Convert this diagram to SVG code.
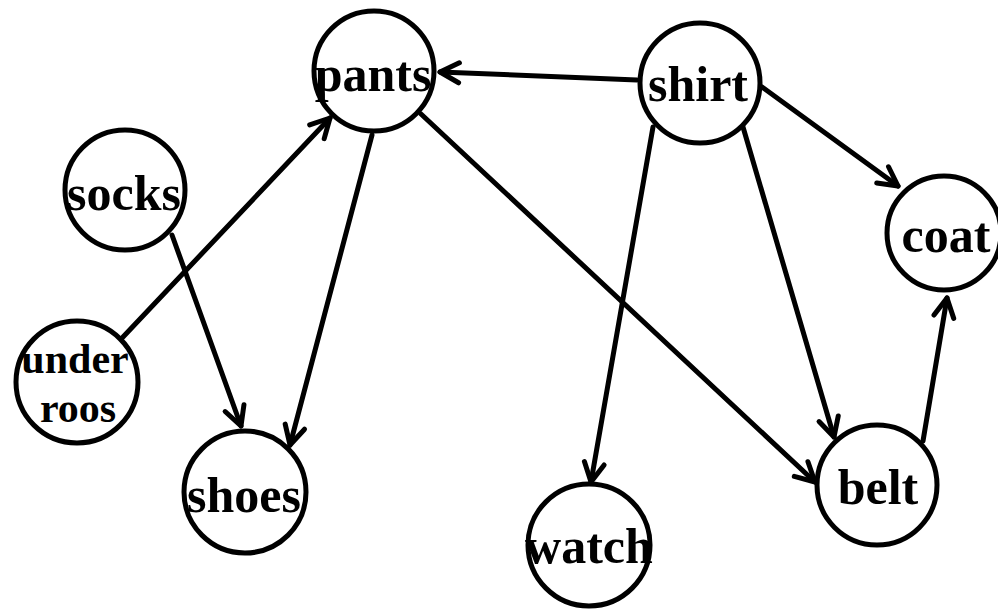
<svg xmlns="http://www.w3.org/2000/svg" width="998" height="609" viewBox="0 0 998 609">
  <style>
    .node circle { fill: #ffffff; stroke: #000000; stroke-width: 5; }
    .node text { font-family: "Liberation Serif", "Times New Roman", serif; font-weight: bold; font-size: 50px; fill: #000000; text-anchor: middle; }
    .node text.small { font-size: 42px; }
    .edges line { stroke: #000000; stroke-width: 5; stroke-linecap: round; marker-end: url(#arrow); }
  </style>
  <defs>
    <marker id="arrow" viewBox="-24 -14 28 28" refX="0" refY="0" markerWidth="28" markerHeight="28" markerUnits="userSpaceOnUse" orient="auto" overflow="visible">
      <path d="M-19,-10 L0,0 L-19,10" fill="none" stroke="#000000" stroke-width="5" stroke-linecap="round" stroke-linejoin="round"/>
    </marker>
  </defs>
  <rect width="998" height="609" fill="#ffffff"/>

  <g id="pants" class="node">
    <circle cx="374" cy="71" r="60"/>
    <text x="373" y="91">pants</text>
  </g>
  <g id="shirt" class="node">
    <circle cx="700" cy="83" r="60"/>
    <text x="698" y="101">shirt</text>
  </g>
  <g id="socks" class="node">
    <circle cx="125" cy="190" r="60"/>
    <text x="124" y="210">socks</text>
  </g>
  <g id="coat" class="node">
    <circle cx="944" cy="233" r="57"/>
    <text x="946" y="252">coat</text>
  </g>
  <g id="underroos" class="node">
    <circle cx="77" cy="382" r="61"/>
    <text class="small" x="75" y="373">under</text>
    <text class="small" x="78" y="422">roos</text>
  </g>
  <g id="shoes" class="node">
    <circle cx="245" cy="492" r="61"/>
    <text x="244" y="512">shoes</text>
  </g>
  <g id="watch" class="node">
    <circle cx="589" cy="545" r="61"/>
    <text x="589" y="563">watch</text>
  </g>
  <g id="belt" class="node">
    <circle cx="877" cy="485" r="60"/>
    <text x="878" y="504">belt</text>
  </g>

  <g id="edges" class="edges">
    <line x1="637" y1="80" x2="440" y2="72"/>
    <line x1="123" y1="337" x2="330" y2="118"/>
    <line x1="172" y1="235" x2="241" y2="426"/>
    <line x1="372" y1="135" x2="290" y2="445"/>
    <line x1="421" y1="114" x2="815" y2="482"/>
    <line x1="653" y1="127" x2="591" y2="482"/>
    <line x1="743" y1="127" x2="834" y2="437"/>
    <line x1="762" y1="87" x2="898" y2="186"/>
    <line x1="923" y1="441" x2="947" y2="298"/>
  </g>
</svg>
